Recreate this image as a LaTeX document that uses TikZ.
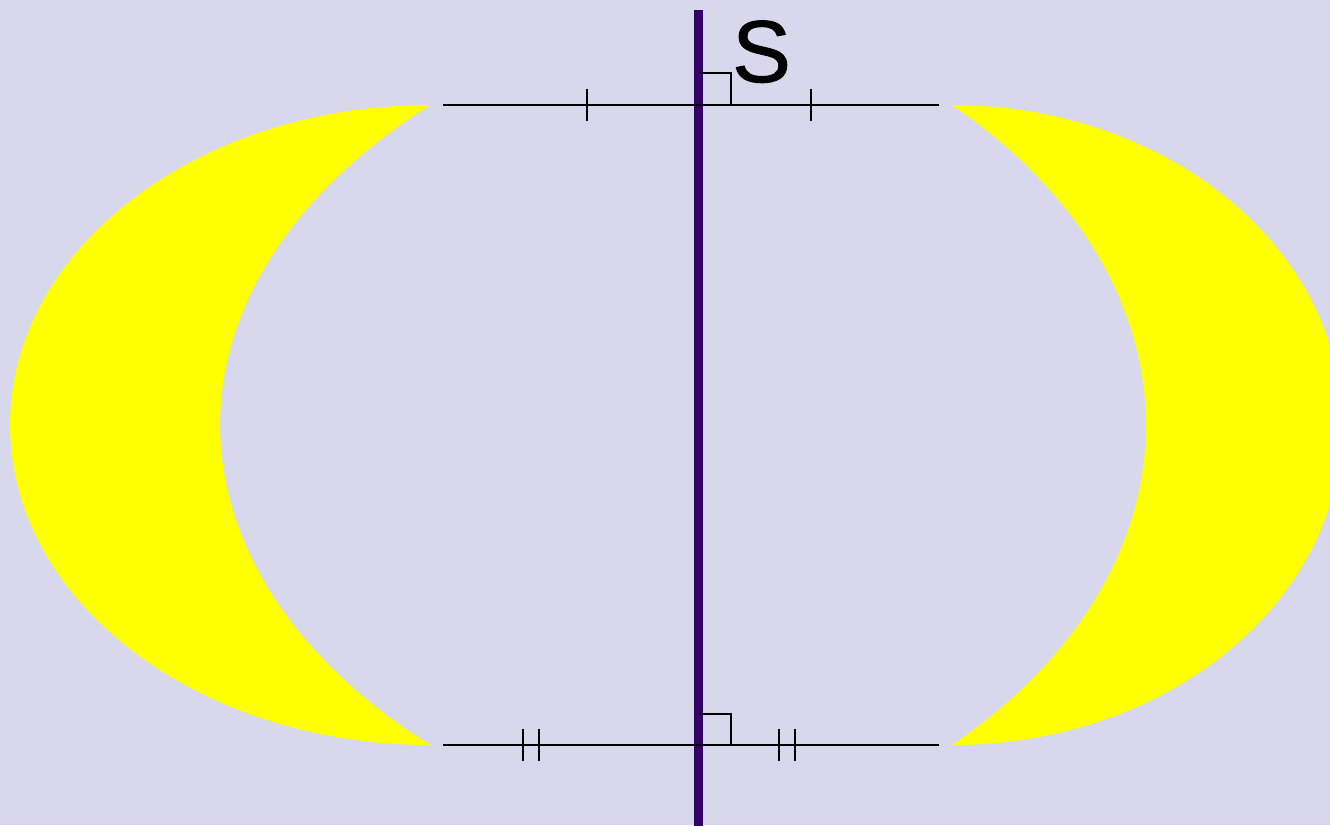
\documentclass[tikz,border=0pt]{standalone}
\usepackage{fontspec}
\setmainfont{Liberation Sans}
\newfontfamily\labelfont[FakeBold=1]{Liberation Sans}
\definecolor{bgcol}{RGB}{216,216,236}
\definecolor{axiscol}{RGB}{51,0,102}
\definecolor{moon}{RGB}{255,255,0}
\begin{document}
\begin{tikzpicture}[x=1pt,y=-1pt,
  thinline/.style={draw=black,line width=2pt},
  tickmark/.style={draw=black,line width=2pt},
  axisline/.style={draw=axiscol,line width=9pt}]
\useasboundingbox (0,0) rectangle (1330,825);
\fill[bgcol] (0,0) rectangle (1330,825);
\begin{scope}
\clip (0,0) rectangle (1330,825);
% left crescent
\fill[moon] (430,105) arc[start angle=90,end angle=270,x radius=420pt,y radius=320pt]
  arc[start angle=225,end angle=135,x radius=717pt,y radius=452.5pt] -- cycle;
% right crescent
\fill[moon] (952,105) arc[start angle=90,end angle=-90,x radius=390pt,y radius=320pt]
  arc[start angle=-45,end angle=45,x radius=662pt,y radius=452.5pt] -- cycle;
% axis
\coordinate (axtop) at (698.5,10);
\coordinate (axbot) at (698.5,830);
\draw[axisline] (axtop) -- (axbot);
\end{scope}
% horizontal segments
\coordinate (tl) at (443,105); \coordinate (tr) at (939,105);
\coordinate (bl) at (443,745); \coordinate (br) at (939,745);
\draw[thinline] (tl) -- (tr);
\draw[thinline] (bl) -- (br);
% right angle marks
\draw[thinline] (699,73) -- (731,73) -- (731,105);
\draw[thinline] (699,714) -- (731,714) -- (731,745);
% single ticks
\draw[tickmark] (587,89) -- (587,121);
\draw[tickmark] (811,89) -- (811,121);
% double ticks
\draw[tickmark] (523,729) -- (523,761);
\draw[tickmark] (539,729) -- (539,761);
\draw[tickmark] (779,729) -- (779,761);
\draw[tickmark] (795,729) -- (795,761);
% label
\node[anchor=base west,inner sep=0pt,font=\labelfont\fontsize{88}{88}\selectfont] (S) at (732,82) {S};
\end{tikzpicture}
\end{document}
